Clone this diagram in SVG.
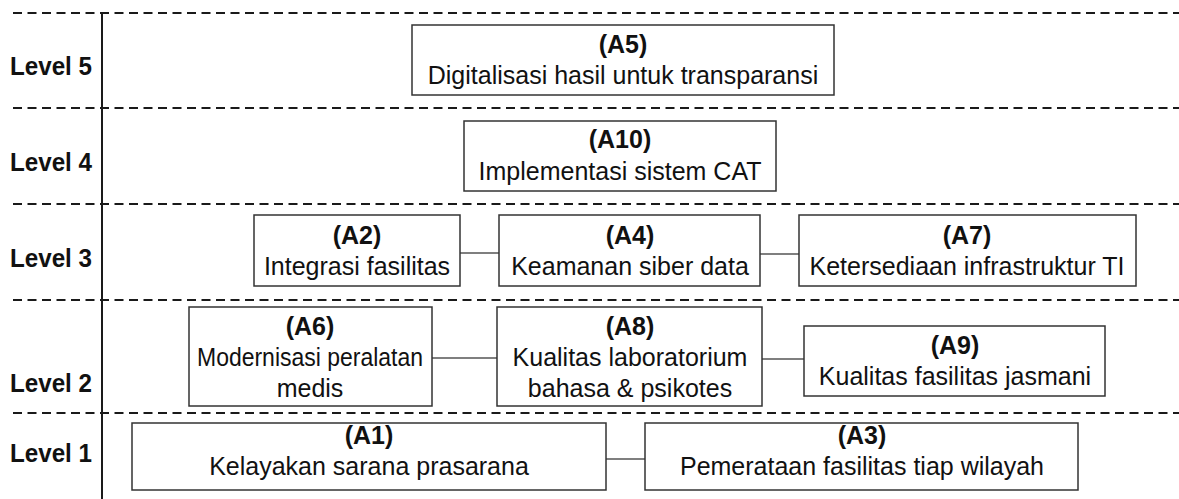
<svg xmlns="http://www.w3.org/2000/svg" width="1179" height="499" viewBox="0 0 1179 499">
<style>
.bg{fill:#ffffff}
.dash{stroke:#1a1a1a;stroke-width:2;stroke-dasharray:9 5.5;fill:none}
.axis{stroke:#1a1a1a;stroke-width:2;fill:none}
.box{fill:#ffffff;stroke:#333333;stroke-width:1.5}
.conn{stroke:#555555;stroke-width:1.5;fill:none}
.lvl{font-family:"Liberation Sans",Arial,sans-serif;font-weight:bold;font-size:26px;fill:#111111}
.id{font-family:"Liberation Sans",Arial,sans-serif;font-weight:bold;font-size:25px;fill:#111111;text-anchor:middle}
.tx{font-family:"Liberation Sans",Arial,sans-serif;font-size:25px;fill:#111111;text-anchor:middle}
</style>
<rect class="bg" x="0" y="0" width="1179" height="499"/>
<g id="grid">
<line class="dash" x1="13" y1="13" x2="1179" y2="13"/>
<line class="dash" x1="13" y1="108" x2="1179" y2="108"/>
<line class="dash" x1="13" y1="204" x2="1179" y2="204"/>
<line class="dash" x1="13" y1="300" x2="1179" y2="300"/>
<line class="dash" x1="13" y1="413" x2="1179" y2="413"/>
<line class="axis" x1="102" y1="13" x2="102" y2="499"/>
</g>
<g id="levels">
<text class="lvl" x="10" y="75" textLength="82" lengthAdjust="spacingAndGlyphs">Level 5</text>
<text class="lvl" x="10" y="171" textLength="82" lengthAdjust="spacingAndGlyphs">Level 4</text>
<text class="lvl" x="10" y="267" textLength="82" lengthAdjust="spacingAndGlyphs">Level 3</text>
<text class="lvl" x="10" y="392" textLength="82" lengthAdjust="spacingAndGlyphs">Level 2</text>
<text class="lvl" x="10" y="462" textLength="82" lengthAdjust="spacingAndGlyphs">Level 1</text>
</g>
<g id="connectors">
<line class="conn" x1="460" y1="253" x2="499" y2="253"/>
<line class="conn" x1="760" y1="254" x2="799" y2="254"/>
<line class="conn" x1="432" y1="358" x2="497" y2="358"/>
<line class="conn" x1="762" y1="359" x2="804" y2="359"/>
<line class="conn" x1="606" y1="459" x2="645" y2="459"/>
</g>
<g id="A5">
<rect class="box" x="412" y="25" width="422" height="70"/>
<text class="id" x="623" y="53">(A5)</text>
<text class="tx" x="623" y="84">Digitalisasi hasil untuk transparansi</text>
</g>
<g id="A10">
<rect class="box" x="464" y="121" width="312" height="70"/>
<text class="id" x="620" y="148">(A10)</text>
<text class="tx" x="620" y="180">Implementasi sistem CAT</text>
</g>
<g id="A2">
<rect class="box" x="254" y="215" width="206" height="71"/>
<text class="id" x="357" y="244">(A2)</text>
<text class="tx" x="357" y="275">Integrasi fasilitas</text>
</g>
<g id="A4">
<rect class="box" x="499" y="215" width="261" height="71"/>
<text class="id" x="630" y="244">(A4)</text>
<text class="tx" x="630" y="275">Keamanan siber data</text>
</g>
<g id="A7">
<rect class="box" x="799" y="215" width="337" height="71"/>
<text class="id" x="967" y="244">(A7)</text>
<text class="tx" x="967" y="275">Ketersediaan infrastruktur TI</text>
</g>
<g id="A6">
<rect class="box" x="189" y="307" width="243" height="99"/>
<text class="id" x="310" y="335">(A6)</text>
<text class="tx" x="310" y="366" textLength="226" lengthAdjust="spacingAndGlyphs">Modernisasi peralatan</text>
<text class="tx" x="310" y="397">medis</text>
</g>
<g id="A8">
<rect class="box" x="497" y="307" width="265" height="99"/>
<text class="id" x="630" y="335">(A8)</text>
<text class="tx" x="630" y="366">Kualitas laboratorium</text>
<text class="tx" x="630" y="397">bahasa &amp; psikotes</text>
</g>
<g id="A9">
<rect class="box" x="804" y="326" width="301" height="70"/>
<text class="id" x="955" y="354">(A9)</text>
<text class="tx" x="955" y="385">Kualitas fasilitas jasmani</text>
</g>
<g id="A1">
<rect class="box" x="132" y="423" width="474" height="67"/>
<text class="id" x="369" y="444">(A1)</text>
<text class="tx" x="369" y="475">Kelayakan sarana prasarana</text>
</g>
<g id="A3">
<rect class="box" x="645" y="423" width="433" height="67"/>
<text class="id" x="862" y="444">(A3)</text>
<text class="tx" x="862" y="475">Pemerataan fasilitas tiap wilayah</text>
</g>
</svg>
